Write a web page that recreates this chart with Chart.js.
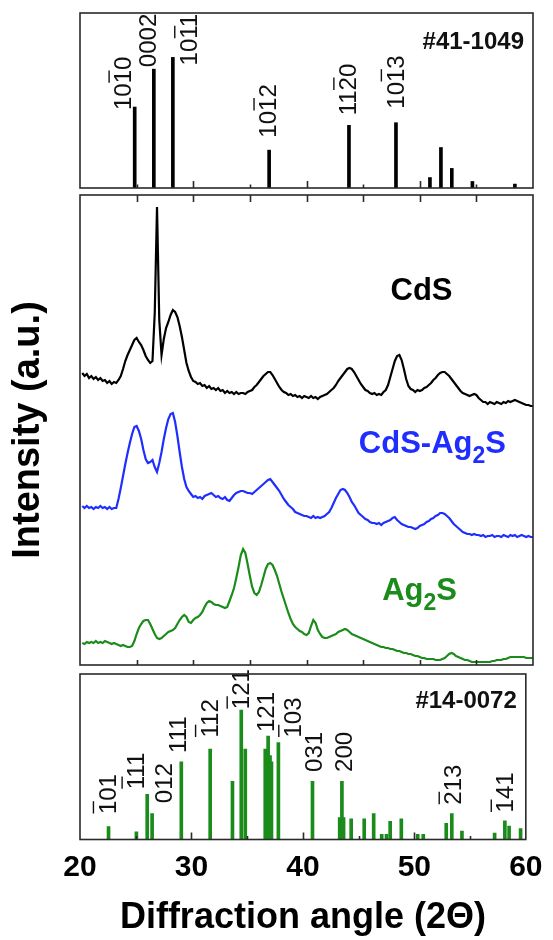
<!DOCTYPE html>
<html>
<head>
<meta charset="utf-8">
<script src="https://cdn.jsdelivr.net/npm/chart.js@4.4.1/dist/chart.umd.min.js"></script>
<style>
  body { margin: 0; background: #fff; width: 553px; height: 940px; position: relative; overflow: hidden; }
  canvas { position: absolute; left: 0; }
</style>
</head>
<body>
<canvas id="cdsRef" width="553" height="195" style="top:0"></canvas>
<canvas id="patterns" width="553" height="480" style="top:190px"></canvas>
<canvas id="ag2sRef" width="553" height="272" style="top:668px"></canvas>
<script>
// CdS reference lines, JCPDS #41-1049
const cdsRefAngle = [24.83, 26.52, 28.2, 36.7, 43.75, 47.9, 50.9, 51.87, 52.83, 54.65, 58.4];
const cdsRefIntensity = [62, 91, 100, 29, 48, 50, 8, 31, 15, 5, 3];
const cdsHkl = ['1010', '0002', '1011', '1012', '1120', '1013'];
const cdsHklPeak = [0, 1, 2, 3, 4, 5];
const cdsHklBar = [2, -1, 2, 2, 2, 2];

// Ag2S reference lines, JCPDS #14-0072
const ag2sRefAngle = [22.56, 25.06, 26.03, 26.47, 29.09, 31.68, 33.68, 34.47, 34.83, 36.62, 36.88,
  37.05, 37.18, 37.8, 40.86, 43.3, 43.5, 43.65, 44.33, 45.5, 46.35, 47.07, 47.5, 47.83, 48.83,
  50.3, 50.8, 52.86, 53.36, 54.27, 57.2, 58.12, 58.5, 59.53];
const ag2sRefIntensity = [10, 6, 35, 20, 60, 70, 45, 100, 70, 70, 80,
  65, 60, 75, 45, 17, 45, 17, 16, 16, 20, 4, 4, 14, 16,
  4, 4, 12.5, 20, 6.5, 5, 14.5, 10.4, 8.5];
const ag2sHkl = ['101', '111', '012', '111', '112', '121', '121', '103', '031', '200', '213', '141'];
const ag2sHklPeak = [0, 2, 3, 4, 5, 7, 10, 13, 14, 16, 28, 31];
const ag2sHklBar = [0, 0, -1, -1, 0, 0, -1, 0, -1, -1, 0, 0];

// measured scans, 0.2 degree steps; counts stacked for display (a.u.)
const twoTheta = [
  20.2, 20.4, 20.6, 20.8, 21.0, 21.2, 21.4, 21.6, 21.8, 22.0,
  22.2, 22.4, 22.6, 22.8, 23.0, 23.2, 23.4, 23.6, 23.8, 24.0,
  24.2, 24.4, 24.6, 24.8, 25.0, 25.2, 25.4, 25.6, 25.8, 26.0,
  26.2, 26.4, 26.6, 26.8, 27.0, 27.2, 27.4, 27.6, 27.8, 28.0,
  28.2, 28.4, 28.6, 28.8, 29.0, 29.2, 29.4, 29.6, 29.8, 30.0,
  30.2, 30.4, 30.6, 30.8, 31.0, 31.2, 31.4, 31.6, 31.8, 32.0,
  32.2, 32.4, 32.6, 32.8, 33.0, 33.2, 33.4, 33.6, 33.8, 34.0,
  34.2, 34.4, 34.6, 34.8, 35.0, 35.2, 35.4, 35.6, 35.8, 36.0,
  36.2, 36.4, 36.6, 36.8, 37.0, 37.2, 37.4, 37.6, 37.8, 38.0,
  38.2, 38.4, 38.6, 38.8, 39.0, 39.2, 39.4, 39.6, 39.8, 40.0,
  40.2, 40.4, 40.6, 40.8, 41.0, 41.2, 41.4, 41.6, 41.8, 42.0,
  42.2, 42.4, 42.6, 42.8, 43.0, 43.2, 43.4, 43.6, 43.8, 44.0,
  44.2, 44.4, 44.6, 44.8, 45.0, 45.2, 45.4, 45.6, 45.8, 46.0,
  46.2, 46.4, 46.6, 46.8, 47.0, 47.2, 47.4, 47.6, 47.8, 48.0,
  48.2, 48.4, 48.6, 48.8, 49.0, 49.2, 49.4, 49.6, 49.8, 50.0,
  50.2, 50.4, 50.6, 50.8, 51.0, 51.2, 51.4, 51.6, 51.8, 52.0,
  52.2, 52.4, 52.6, 52.8, 53.0, 53.2, 53.4, 53.6, 53.8, 54.0,
  54.2, 54.4, 54.6, 54.8, 55.0, 55.2, 55.4, 55.6, 55.8, 56.0,
  56.2, 56.4, 56.6, 56.8, 57.0, 57.2, 57.4, 57.6, 57.8, 58.0,
  58.2, 58.4, 58.6, 58.8, 59.0, 59.2, 59.4, 59.6, 59.8, 60.0];

const cdsCounts = [
  292, 289, 291, 287, 289, 286, 288, 285, 287, 284,
  285, 282, 284, 281, 283, 282, 285, 289, 296, 304,
  310, 315, 320, 325, 327, 323, 320, 315, 309, 305,
  302, 304, 352, 458, 345, 310, 326, 337, 343, 350,
  355, 353, 348, 339, 328, 315, 302, 294, 288, 284,
  283, 281, 282, 279, 280, 277, 279, 276, 277, 275,
  277, 274, 275, 272, 274, 272, 273, 271, 273, 271,
  272, 272, 271, 273, 274, 275, 278, 280, 283, 286,
  289, 291, 293, 293, 290, 286, 282, 278, 275, 273,
  272, 270, 271, 269, 270, 268, 269, 267, 269, 268,
  267, 269, 267, 268, 266, 268, 269, 270, 271, 273,
  275, 277, 280, 284, 287, 290, 293, 296, 297, 296,
  293, 289, 285, 281, 278, 275, 274, 272, 271, 272,
  270, 271, 270, 273, 275, 280, 288, 296, 304, 309,
  310, 305, 296, 286, 279, 276, 275, 273, 275, 274,
  275, 277, 278, 280, 282, 285, 287, 290, 292, 293,
  293, 291, 289, 286, 283, 280, 277, 274, 272, 271,
  270, 269, 270, 271, 270, 267, 265, 263, 263, 261,
  263, 262, 261, 263, 262, 261, 263, 262, 264, 263,
  264, 265, 264, 263, 262, 261, 260, 260, 259, 259];

const mixCounts = [
  159, 157, 159, 157, 158, 156, 158, 157, 159, 157,
  158, 156, 158, 156, 157, 157, 166, 177, 189, 201,
  212, 222, 231, 238, 239, 234, 226, 215, 206, 202,
  203, 205, 198, 193, 202, 213, 226, 237, 246, 251,
  252, 243, 229, 213, 198, 186, 178, 174, 171, 168,
  169, 167, 168, 166, 169, 170, 171, 172, 170, 168,
  169, 167, 166, 168, 165, 164, 167, 170, 172, 173,
  174, 174, 173, 172, 172, 171, 173, 175, 177, 179,
  181, 183, 185, 186, 183, 180, 177, 174, 170, 166,
  163, 160, 158, 156, 153, 152, 151, 150, 149, 149,
  148, 147, 149, 147, 148, 147, 148, 149, 151, 153,
  157, 162, 167, 171, 175, 176, 175, 172, 168, 163,
  160, 156, 152, 150, 148, 146, 145, 143, 142, 142,
  141, 142, 140, 142, 143, 144, 145, 147, 148, 145,
  143, 141, 140, 139, 138, 138, 137, 136, 137, 139,
  140, 141, 143, 144, 146, 147, 149, 150, 152, 152,
  151, 149, 147, 144, 141, 139, 137, 135, 133, 132,
  131, 131, 130, 131, 130, 130, 129, 130, 128, 129,
  129, 130, 128, 129, 129, 128, 130, 129, 128, 130,
  129, 130, 128, 129, 130, 129, 128, 129, 128, 128];

const ag2sCounts = [
  22, 21, 23, 22, 23, 22, 24, 22, 23, 22,
  24, 23, 22, 21, 22, 21, 20, 19, 20, 19,
  18, 18, 19, 24, 31, 37, 41, 44, 45, 45,
  41, 36, 31, 27, 26, 27, 29, 31, 33, 34,
  35, 37, 41, 45, 48, 50, 48, 43, 42, 45,
  47, 48, 50, 53, 58, 62, 64, 63, 61, 60,
  60, 59, 58, 57, 58, 64, 70, 77, 87, 98,
  110, 116, 112, 101, 89, 78, 72, 70, 73, 80,
  88, 96, 101, 102, 100, 95, 89, 81, 73, 66,
  59, 52, 46, 41, 38, 36, 34, 33, 31, 30,
  32, 39, 45, 42, 35, 31, 28, 27, 27, 28,
  29, 30, 31, 33, 34, 35, 36, 35, 33, 31,
  30, 29, 28, 27, 26, 25, 24, 23, 22, 21,
  20, 19, 18, 18, 17, 17, 16, 16, 15, 14,
  14, 13, 12, 12, 11, 11, 10, 9, 9, 8,
  7, 7, 6, 6, 6, 6, 5, 5, 5, 6,
  7, 9, 11, 12, 11, 9, 8, 7, 6, 5,
  5, 4, 3, 3, 3, 3, 3, 3, 3, 3,
  3, 4, 4, 5, 5, 5, 6, 6, 7, 8,
  8, 8, 8, 8, 8, 8, 7, 7, 7, 7];

const xTicks = [20, 30, 40, 50, 60];

const FONT = '"Liberation Sans", Arial, Helvetica, sans-serif';
const BLUE = '#1f2eff';
const GREEN = '#1b8c1b';
Chart.defaults.font.family = FONT;
Chart.defaults.color = '#000';

// where each hkl label sits relative to the top of its line: [dx px, gap px]
const cdsHklPlace = [[-12, -3], [-6, 2], [15.5, -8], [-1.5, 12.5], [-1.5, 10], [-1, 14]];
const ag2sHklPlace = [[-1.5, 12.5], [-11.5, 5], [11.3, 10.5], [-4, 9], [-1, 11.5], [-0.5, 1],
  [-3, 4], [14, 5], [1.3, 9.4], [1.8, 9.4], [1, 9], [0, 8.3]];

const pts = (xs, ys) => xs.map((x, i) => ({x, y: ys[i]}));

// frame round the plot area plus inward ticks every 5 degrees
const frame = {
  id: 'frame',
  afterDraw(chart, args, opts) {
    const {ctx, chartArea: a, scales: {x}} = chart;
    ctx.save();
    ctx.strokeStyle = '#2a2a2a';
    ctx.lineWidth = 1.6;
    ctx.beginPath();
    for (let v = 25; v < 60; v += 5) {
      const px = Math.round(x.getPixelForValue(v)) + 0.5;
      const major = v % 10 === 0 ? 0 : 1;
      if (opts.bottom) {
        ctx.moveTo(px, a.bottom);
        ctx.lineTo(px, a.bottom - opts.bottom[major]);
      }
      if (opts.top) {
        ctx.moveTo(px, a.top);
        ctx.lineTo(px, a.top + opts.top[major]);
      }
    }
    ctx.stroke();
    ctx.strokeRect(a.left, a.top, a.right - a.left, a.bottom - a.top);
    ctx.restore();
  }
};

// vertical hkl label; one digit may carry an overbar
function drawHkl(ctx, text, bar, cx, bottom, size) {
  ctx.save();
  ctx.font = `${size}px ${FONT}`;
  ctx.fillStyle = '#111';
  ctx.strokeStyle = '#111';
  const cap = size * 0.716;
  ctx.translate(cx + cap / 2, bottom);
  ctx.rotate(-Math.PI / 2);
  ctx.textBaseline = 'alphabetic';
  ctx.fillText(text, 0, 0);
  if (bar >= 0) {
    const x0 = ctx.measureText(text.slice(0, bar)).width;
    const w = ctx.measureText(text[bar]).width;
    const y = -cap - 5;
    ctx.lineWidth = 1.4;
    ctx.beginPath();
    ctx.moveTo(x0 + 0.5, y);
    ctx.lineTo(x0 + w - 0.5, y);
    ctx.stroke();
  }
  ctx.restore();
}

const hklLabels = {
  id: 'hklLabels',
  afterDatasetsDraw(chart, args, opts) {
    const {ctx, scales: {x, y}} = chart;
    opts.text.forEach((t, i) => {
      const k = opts.peak[i];
      const px = x.getPixelForValue(opts.angle[k]);
      const top = y.getPixelForValue(opts.intensity[k]);
      const [dx, gap] = opts.place[i];
      drawHkl(ctx, t, opts.bar[i], px + dx, top - gap, 24);
    });
    ctx.save();
    ctx.font = `bold 24px ${FONT}`;
    ctx.textAlign = 'right';
    ctx.fillStyle = '#111';
    ctx.fillText(opts.card, chart.chartArea.right - 9, chart.chartArea.top + opts.cardY);
    ctx.restore();
  }
};

// phase names, "_2" becomes a subscript
const phaseNames = {
  id: 'phaseNames',
  afterDatasetsDraw(chart, args, opts) {
    const {ctx, scales: {x, y}} = chart;
    opts.items.forEach(({text, angle, level, color}) => {
      let px = x.getPixelForValue(angle);
      const py = y.getPixelForValue(level);
      ctx.save();
      ctx.fillStyle = color;
      text.split(/(_\d)/).forEach(part => {
        if (!part) return;
        const sub = part[0] === '_';
        const s = sub ? part.slice(1) : part;
        ctx.font = `bold ${sub ? 23 : 31}px ${FONT}`;
        ctx.fillText(s, px, sub ? py + 10 : py);
        px += ctx.measureText(s).width;
      });
      ctx.restore();
    });
  }
};

new Chart(document.getElementById('cdsRef'), {
  type: 'bar',
  data: {
    datasets: [{data: pts(cdsRefAngle, cdsRefIntensity), backgroundColor: '#000', barThickness: 3}],
  },
  options: {
    responsive: false,
    animation: false,
    events: [],
    layout: {padding: {left: 80, right: 20, top: 13, bottom: 7}},
    scales: {
      x: {type: 'linear', min: 20, max: 60, offset: false, display: false},
      y: {min: 0, max: 134, display: false},
    },
    plugins: {
      legend: {display: false},
      tooltip: {enabled: false},
      frame: {bottom: [7, 3.5]},
      hklLabels: {
        text: cdsHkl, peak: cdsHklPeak, bar: cdsHklBar, place: cdsHklPlace,
        angle: cdsRefAngle, intensity: cdsRefIntensity, card: '#41-1049', cardY: 35.5,
      },
    },
  },
  plugins: [frame, hklLabels],
});

new Chart(document.getElementById('patterns'), {
  type: 'line',
  data: {
    datasets: [
      {label: 'CdS', data: pts(twoTheta, cdsCounts), borderColor: '#000'},
      {label: 'CdS-Ag2S', data: pts(twoTheta, mixCounts), borderColor: BLUE},
      {label: 'Ag2S', data: pts(twoTheta, ag2sCounts), borderColor: GREEN},
    ],
  },
  options: {
    responsive: false,
    animation: false,
    events: [],
    layout: {padding: {left: 0, right: 20, top: 5, bottom: 5}},
    elements: {point: {radius: 0}, line: {borderWidth: 2.2, tension: 0}},
    scales: {
      x: {type: 'linear', min: 20, max: 60, display: false},
      y: {
        min: 0, max: 470,
        ticks: {display: false},
        grid: {display: false, drawTicks: false},
        border: {display: false},
        title: {
          display: true, text: 'Intensity (a.u.)',
          font: {size: 38, weight: 'bold'}, padding: {top: 6, bottom: 28.4},
        },
      },
    },
    plugins: {
      legend: {display: false},
      tooltip: {enabled: false},
      frame: {top: [7, 7], bottom: [5, 5]},
      phaseNames: {
        items: [
          {text: 'CdS', angle: 47.42, level: 365, color: '#000'},
          {text: 'CdS-Ag_2S', angle: 44.62, level: 212, color: BLUE},
          {text: 'Ag_2S', angle: 46.68, level: 65, color: GREEN},
        ],
      },
    },
  },
  plugins: [frame, phaseNames],
});

new Chart(document.getElementById('ag2sRef'), {
  type: 'bar',
  data: {
    datasets: [{data: pts(ag2sRefAngle, ag2sRefIntensity), backgroundColor: GREEN, barThickness: 3}],
  },
  options: {
    responsive: false,
    animation: false,
    events: [],
    layout: {padding: {left: 80, right: 20, top: 6, bottom: 0}},
    scales: {
      x: {
        type: 'linear', min: 20, max: 60, offset: false,
        afterBuildTicks: s => { s.ticks = xTicks.map(v => ({value: v})); },
        ticks: {font: {size: 30, weight: 'bold'}, padding: 10.5, color: '#000'},
        grid: {display: false, drawTicks: false},
        border: {display: false},
        title: {
          display: true, text: 'Diffraction angle (2\u0398)',
          font: {size: 36, weight: 'bold'}, padding: {top: 0.3, bottom: 0},
        },
      },
      y: {min: 0, max: 128, display: false},
    },
    plugins: {
      legend: {display: false},
      tooltip: {enabled: false},
      frame: {bottom: [7, 3.5]},
      hklLabels: {
        text: ag2sHkl, peak: ag2sHklPeak, bar: ag2sHklBar, place: ag2sHklPlace,
        angle: ag2sRefAngle, intensity: ag2sRefIntensity, card: '#14-0072', cardY: 34,
      },
    },
  },
  plugins: [frame, hklLabels],
});
</script>
</body>
</html>
